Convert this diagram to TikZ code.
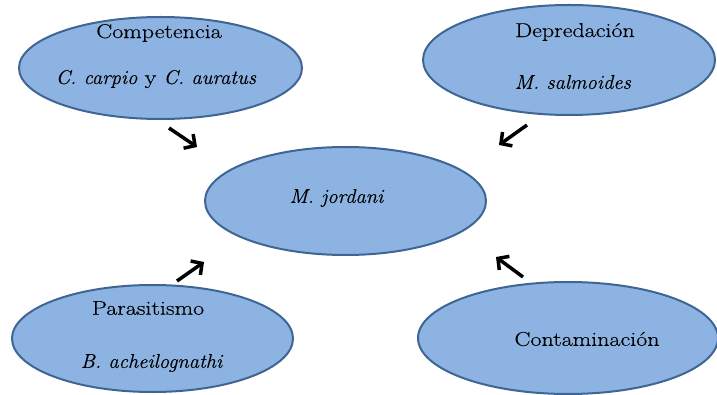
\documentclass[tikz,border=0pt]{standalone}
\usepackage{fontspec}
\setmainfont{Latin Modern Roman}[FakeStretch=1.2, FakeBold=0.3, ItalicFeatures={FakeStretch=1.03}]
\usetikzlibrary{shapes.geometric,arrows.meta}
\definecolor{efill}{HTML}{8DB3E2}
\definecolor{eline}{HTML}{3F6594}
\tikzset{
  oval/.style={ellipse, draw=eline, fill=efill, line width=2pt, inner sep=0pt},
  lbl/.style={inner sep=0pt, text=black, font=\fontsize{20}{24}\selectfont},
  arr/.style={line width=3.5pt, -{Straight Barb[length=8pt,width=17pt]}},
}
\begin{document}
\begin{tikzpicture}[x=1pt,y=-1pt]
\useasboundingbox (0,0) rectangle (717,395);
\node[oval, minimum width=283pt, minimum height=102pt] (comp) at (160.5,68) {};
\node[oval, minimum width=292pt, minimum height=110pt] (depr) at (569,60) {};
\node[oval, minimum width=281pt, minimum height=108pt] (jord) at (345.5,201) {};
\node[oval, minimum width=281pt, minimum height=107pt] (para) at (152.5,338.5) {};
\node[oval, minimum width=300pt, minimum height=112pt] (cont) at (568,338) {};

\node[lbl] (t1) at (159,33) {Competencia};
\node[lbl] (t2) at (156,79) {\textit{C. carpio} y \textit{C. auratus}};
\node[lbl] (t3) at (575,32) {Depredación};
\node[lbl] (t4) at (573,82) {\textit{M. salmoides}};
\node[lbl] (t5) at (337,198) {\textit{M. jordani}};
\node[lbl] (t6) at (148,308) {Parasitismo};
\node[lbl] (t7) at (152,363) {\textit{B. acheilognathi}};
\node[lbl] (t8) at (587,339) {Contaminación};

\coordinate (a1s) at (169,128); \coordinate (a1e) at (197,147);
\coordinate (a2s) at (527,125); \coordinate (a2e) at (499,145);
\coordinate (a3s) at (177,281); \coordinate (a3e) at (204,262);
\coordinate (a4s) at (523,277); \coordinate (a4e) at (496,257);
\draw[arr] (a1s) -- (a1e);
\draw[arr] (a2s) -- (a2e);
\draw[arr] (a3s) -- (a3e);
\draw[arr] (a4s) -- (a4e);
\end{tikzpicture}
\end{document}
